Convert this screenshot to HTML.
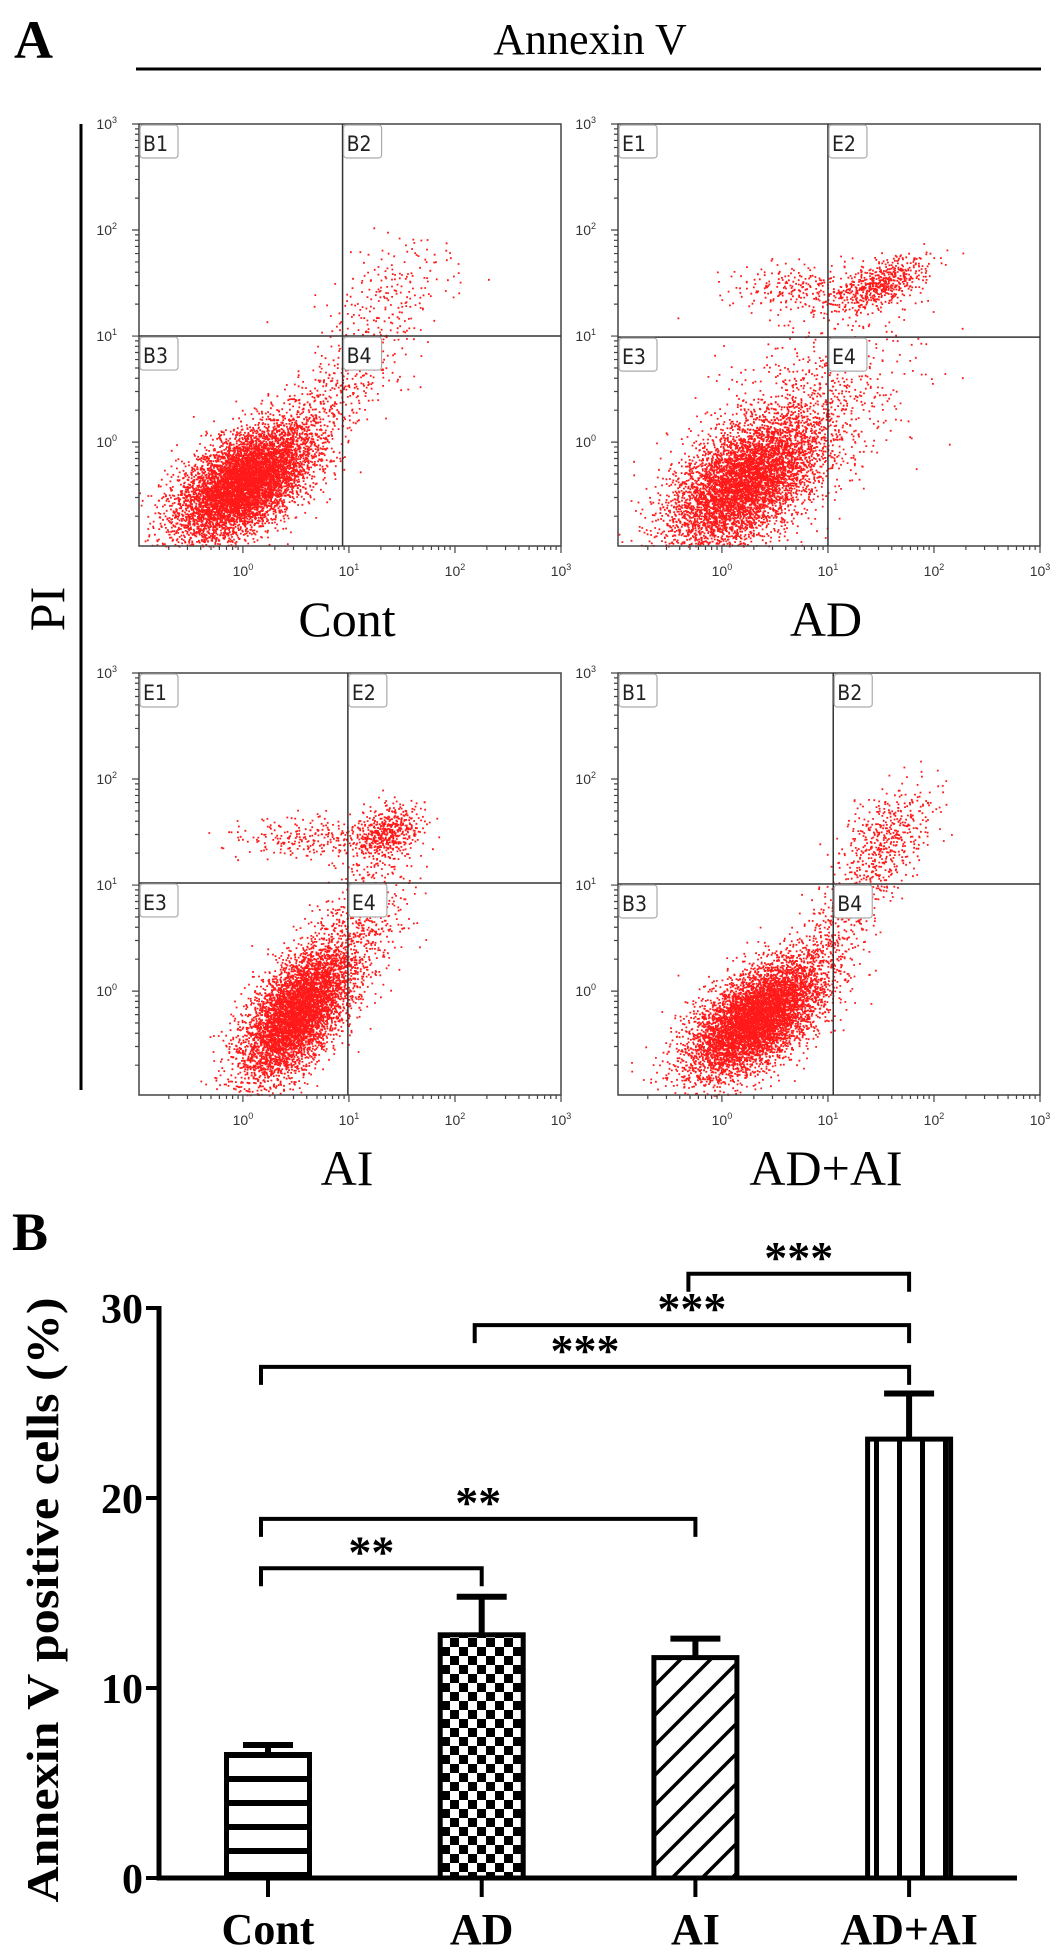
<!DOCTYPE html>
<html><head><meta charset="utf-8"><style>
html,body{margin:0;padding:0;background:#fff}
svg{display:block}
</style></head><body>
<svg id="fig" width="1063" height="1957" viewBox="0 0 1063 1957" xmlns="http://www.w3.org/2000/svg">
<defs>
<pattern id="pat-h" patternUnits="userSpaceOnUse" x="0" y="0" width="10" height="24"><rect x="0" y="0" width="10" height="6" fill="#000"/></pattern>
<pattern id="pat-c" patternUnits="userSpaceOnUse" x="0" y="0" width="18" height="18"><rect x="0" y="0" width="9" height="9" fill="#000"/><rect x="9" y="9" width="9" height="9" fill="#000"/></pattern>
<pattern id="pat-d" patternUnits="userSpaceOnUse" x="0" y="0" width="30" height="30"><path d="M-5 35 L35 -5 M-35 35 L5 -5 M25 35 L65 -5" stroke="#000" stroke-width="3.5"/></pattern>
<pattern id="pat-v" patternUnits="userSpaceOnUse" x="0" y="0" width="23" height="10"><rect x="0" y="0" width="5" height="10" fill="#000"/></pattern>
</defs>
<g font-family="'Liberation Serif', serif">
<text x="14" y="58" font-size="54" font-weight="bold">A</text>
<text x="590" y="54" font-size="44" text-anchor="middle">Annexin V</text>
<line x1="136" y1="69" x2="1041" y2="69" stroke="#000" stroke-width="3"/>
<line x1="81" y1="124" x2="81" y2="1090" stroke="#000" stroke-width="3"/>
<text transform="translate(64,609) rotate(-90)" font-size="50" text-anchor="middle">PI</text>
<text x="12" y="1250" font-size="54" font-weight="bold">B</text>
</g>
<g id="flow"></g>
<g id="bars"></g>
</svg>
<script>
// ---------- Flow cytometry panels ----------
const panelNames = ['Cont', 'AD', 'AI', 'AD+AI'];
const quadLabels = [['B1','B2','B3','B4'],['E1','E2','E3','E4'],['E1','E2','E3','E4'],['B1','B2','B3','B4']];
const gateX = [0.94, 1.0, 0.99, 1.05];   // log10 Annexin V gate
const gateY = [1.0, 0.99, 1.02, 1.01];   // log10 PI gate
const axisTicks = ['0', '1', '2', '3'];
// cell populations per panel: [log10 x centre, log10 y centre, sd x, sd y, correlation, count]
const popCont = [[0.0,-0.38,0.32,0.27,0.55,6500],[0.8,0.4,0.45,0.5,0.85,600],[1.35,1.45,0.3,0.25,0.5,150]];
const popAD = [[0.2,-0.38,0.36,0.32,0.55,5200],[0.75,0.2,0.5,0.5,0.5,900],[1.5,1.5,0.22,0.13,0.6,550],[0.75,1.45,0.35,0.12,0,260]];
const popAI = [[0.5,-0.2,0.26,0.32,0.6,5200],[1.35,1.5,0.16,0.13,0.3,500],[0.65,1.45,0.38,0.1,0,260],[1.1,0.6,0.25,0.4,0.5,500]];
const popADAI = [[0.32,-0.25,0.32,0.28,0.6,6000],[1.2,0.8,0.33,0.45,0.85,520],[1.55,1.5,0.22,0.22,0.4,330]];
const populations = [popCont, popAD, popAI, popADAI];

const NS = 'http://www.w3.org/2000/svg';
const panelPos = [[139,124],[618,124],[139,673],[618,673]];
const PW = 422, LMIN = -0.98, LMAX = 3;
function el(tag, attrs, parent){const e=document.createElementNS(NS,tag);for(const k in attrs)e.setAttribute(k,attrs[k]);parent.appendChild(e);return e;}
function halton(i,b){let f=1,r=0;while(i>0){f/=b;r+=f*(i%b);i=Math.floor(i/b);}return r;}
const flow = document.getElementById('flow');
let seq = 1;
panelNames.forEach((name, p) => {
  const [L, T] = panelPos[p];
  const sx = v => L + (v - LMIN) / (LMAX - LMIN) * PW;
  const sy = v => T + PW - (v - LMIN) / (LMAX - LMIN) * PW;
  const g = el('g', {}, flow);
  
  
  let d = '';
  populations[p].forEach(pop => {
    const [cx, cy, sdx, sdy, r, n] = pop;
    for (let i = 0; i < n; i++) {
      seq++;
      const u1 = Math.max(1e-6, halton(seq, 2)), u2 = halton(seq, 3), u3 = Math.max(1e-6, halton(seq, 5)), u4 = halton(seq, 7);
      const z1 = Math.sqrt(-2 * Math.log(u1)) * Math.cos(2 * Math.PI * u2);
      const z2 = Math.sqrt(-2 * Math.log(u3)) * Math.cos(2 * Math.PI * u4);
      const x = cx + sdx * z1, y = cy + sdy * (r * z1 + Math.sqrt(1 - r * r) * z2);
      if (x < LMIN || x > LMAX || y < LMIN || y > LMAX) continue;
      d += 'M' + sx(x).toFixed(1) + ' ' + sy(y).toFixed(1) + 'h1.8v1.8h-1.8z';
    }
  });
  const dots = el('path', {d: d, fill: '#ff0000', 'fill-opacity': '0.9'}, g);
  
  
  const frame = el('rect', {x: L, y: T, width: PW, height: PW, fill: 'none', stroke: '#444', 'stroke-width': 1.5}, g);
  
  
  const gx = sx(gateX[p]), gy = sy(gateY[p]);
  const vl = el('line', {x1: gx, y1: T, x2: gx, y2: T + PW, stroke: '#333', 'stroke-width': 1.5}, g);
  
  
  const hl = el('line', {x1: L, y1: gy, x2: L + PW, y2: gy, stroke: '#333', 'stroke-width': 1.5}, g);
  
  
  const corners = [[L, T], [gx, T], [L, gy], [gx, gy]];
  corners.forEach((c, q) => {
    const b = el('rect', {x: c[0] + 1, y: c[1] + 1, width: 38, height: 33, rx: 3, fill: '#fff', stroke: '#aaa', 'stroke-width': 1.2}, g);
    
    
    const t = el('text', {x: c[0] + 4, y: c[1] + 27, 'font-size': 21, fill: '#222', 'font-family': "'DejaVu Sans Condensed','DejaVu Sans',sans-serif"}, g);
    t.textContent = quadLabels[p][q];
    
    
  });
  let tk = '';
  for (let dd = -1; dd <= 2; dd++) for (let k = 2; k <= 9; k++) {
    const v = dd + Math.log10(k);
    if (v < LMIN || v > LMAX) continue;
    tk += 'M' + sx(v) + ' ' + (T + PW) + 'v4' + 'M' + L + ' ' + sy(v) + 'h-4';
  }
  axisTicks.forEach(e => { tk += 'M' + sx(+e) + ' ' + (T + PW) + 'v7' + 'M' + L + ' ' + sy(+e) + 'h-7'; });
  const ticks = el('path', {d: tk, stroke: '#444', 'stroke-width': 1.2, fill: 'none'}, g);
  
  
  axisTicks.forEach(e => {
    const tx = el('text', {x: sx(+e), y: T + PW + 30, 'font-size': 14, fill: '#333', 'text-anchor': 'middle', 'font-family': "'Liberation Sans',sans-serif"}, g);
    tx.innerHTML = '10<tspan font-size="9" dy="-6">' + e + '</tspan>';
    
    
    const ty = el('text', {x: L - 22, y: sy(+e) + 5, 'font-size': 14, fill: '#333', 'text-anchor': 'end', 'font-family': "'Liberation Sans',sans-serif"}, g);
    ty.innerHTML = '10<tspan font-size="9" dy="-6">' + e + '</tspan>';
    
    
  });
  const cap = el('text', {x: L + 208, y: T + PW + 90, 'font-size': 50, 'text-anchor': 'middle', 'font-family': "'Liberation Serif',serif"}, g);
  cap.textContent = name;
  
  
});

// ---------- Bar chart ----------
const categories = ['Cont', 'AD', 'AI', 'AD+AI'];
const means = [6.5, 12.8, 11.6, 23.1];
const sems = [0.5, 2.0, 1.0, 2.4];
const yTicks = [0, 10, 20, 30];
const patterns = ['pat-h', 'pat-c', 'pat-d', 'pat-v'];
// significance brackets: [from index, to index, bracket level value, label]
const brackets = [[0,1,16.3,'**'],[0,2,18.9,'**'],[0,3,26.9,'***'],[1,3,29.1,'***'],[2,3,31.8,'***']];

const bars = document.getElementById('bars');
const X0 = 159, Y0 = 1878, PX = 19.0;
const yS = v => Y0 - v * PX;
const xC = i => 268 + i * 213.7;
const BW = 88;
const ax = el('path', {d: 'M' + X0 + ' ' + (yS(30) - 2) + 'V' + Y0 + 'H1017', stroke: '#000', 'stroke-width': 5, fill: 'none'}, bars);


yTicks.forEach(v => {
  const t = el('line', {x1: X0 - 13, y1: yS(v), x2: X0, y2: yS(v), stroke: '#000', 'stroke-width': 4}, bars);
  
  
  const l = el('text', {x: X0 - 16, y: yS(v) + 15, 'font-size': 42, 'font-weight': 'bold', 'text-anchor': 'end', 'font-family': "'Liberation Serif',serif"}, bars);
  l.textContent = v;
  
  
});
categories.forEach((c, i) => {
  const cx = xC(i);
  const t = el('line', {x1: cx, y1: Y0, x2: cx, y2: Y0 + 19, stroke: '#000', 'stroke-width': 4}, bars);
  
  
  const l = el('text', {x: cx, y: 1944, 'font-size': 44, 'font-weight': 'bold', 'text-anchor': 'middle', 'font-family': "'Liberation Serif',serif"}, bars);
  l.textContent = c;
  
  
  const top = yS(means[i]), etop = yS(means[i] + sems[i]);
  const eb = el('path', {d: 'M' + cx + ' ' + top + 'V' + etop + 'M' + (cx - 25) + ' ' + etop + 'H' + (cx + 25), stroke: '#000', 'stroke-width': 6, fill: 'none'}, bars);
  
  
  const b = el('rect', {x: cx - BW / 2 + 2.5, y: top, width: BW - 5, height: Y0 - top, fill: 'url(#' + patterns[i] + ')', stroke: '#000', 'stroke-width': 5}, bars);
  
  
});
brackets.forEach(br => {
  const [a, b, lv, lab] = br;
  const y = yS(lv), x1 = xC(a) - 7, x2 = xC(b);
  const p = el('path', {d: 'M' + x1 + ' ' + (y + 18) + 'V' + y + 'H' + x2 + 'V' + (y + 18), stroke: '#000', 'stroke-width': 4, fill: 'none'}, bars);
  
  
  const t = el('text', {x: (x1 + x2) / 2, y: y - 1, 'font-size': 46, 'font-weight': 'bold', 'text-anchor': 'middle', 'font-family': "'Liberation Serif',serif"}, bars);
  t.textContent = lab;
  
  
});
const yt = el('text', {transform: 'translate(58,1600) rotate(-90)', 'font-size': 46, 'font-weight': 'bold', 'text-anchor': 'middle', textLength: 605, lengthAdjust: 'spacingAndGlyphs', 'font-family': "'Liberation Serif',serif"}, bars);
yt.textContent = 'Annexin V positive cells (%)';


</script>
</body></html>
